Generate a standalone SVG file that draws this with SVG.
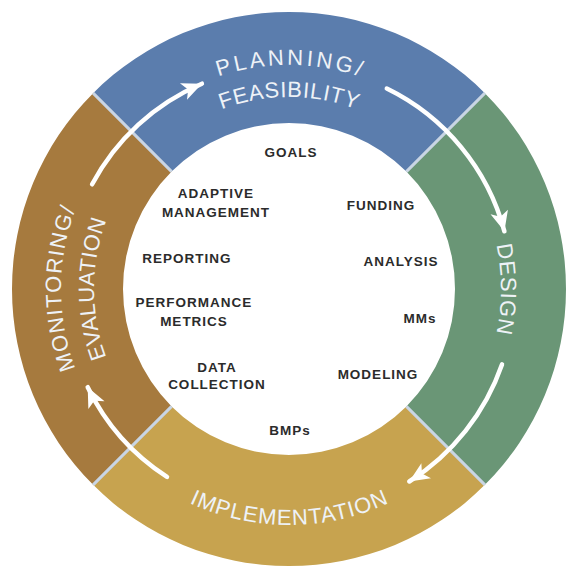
<svg xmlns="http://www.w3.org/2000/svg" width="568" height="572" viewBox="0 0 568 572">
<style>
.ring{font-family:"Liberation Sans Narrow","Liberation Sans","DejaVu Sans Condensed",sans-serif;font-size:22px;fill:#eef2f7}
.lbl{font-family:"Liberation Sans",Arial,sans-serif;font-size:13.5px;font-weight:bold;fill:#2b2b2b;text-anchor:middle;letter-spacing:1px}
.div{stroke:#c9d5e4;stroke-width:3}
.arr{fill:none;stroke:#ffffff;stroke-width:4.5;stroke-linecap:round}
</style>
<defs>
<marker id="ah" markerUnits="userSpaceOnUse" markerWidth="24" markerHeight="22" viewBox="-2 -11 24 22" refX="20" refY="0" orient="auto">
<path d="M0,-9 L20,0 L0,9 L5,0 Z" fill="#ffffff"/>
</marker>
<path id="pPlan" d="M65,289 A224,224 0 0 1 513,289"/>
<path id="pFeas" d="M97,289 A192,192 0 0 1 481,289"/>
<path id="pDes" d="M289,77 A212,212 0 0 1 289,501"/>
<path id="pImp" d="M53,289 A236,236 0 0 0 525,289"/>
<path id="pMon" d="M289,517 A228,228 0 0 1 289,61"/>
<path id="pEval" d="M289,484 A195,195 0 0 1 289,94"/>
</defs>
<rect width="568" height="572" fill="#ffffff"/>
<g id="planning">
<path d="M93.13,93.13 A277,277 0 0 1 484.87,93.13 L406.38,171.62 A166,166 0 0 0 171.62,171.62 Z" fill="#5b7dad"/>
<text class="ring"><textPath href="#pPlan" startOffset="50%" text-anchor="middle" textLength="144" lengthAdjust="spacing">PLANNING/</textPath></text>
<text class="ring"><textPath href="#pFeas" startOffset="50%" text-anchor="middle" textLength="138" lengthAdjust="spacing">FEASIBILITY</textPath></text>
</g>
<g id="design">
<path d="M484.87,93.13 A277,277 0 0 1 484.87,484.87 L406.38,406.38 A166,166 0 0 0 406.38,171.62 Z" fill="#6a9676"/>
<text class="ring"><textPath href="#pDes" startOffset="50%" text-anchor="middle" textLength="89" lengthAdjust="spacing">DESIGN</textPath></text>
</g>
<g id="implementation">
<path d="M484.87,484.87 A277,277 0 0 1 93.13,484.87 L171.62,406.38 A166,166 0 0 0 406.38,406.38 Z" fill="#c7a34f"/>
<text class="ring"><textPath href="#pImp" startOffset="50%" text-anchor="middle" textLength="206" lengthAdjust="spacing">IMPLEMENTATION</textPath></text>
</g>
<g id="monitoring">
<path d="M93.13,484.87 A277,277 0 0 1 93.13,93.13 L171.62,171.62 A166,166 0 0 0 171.62,406.38 Z" fill="#a67a3e"/>
<text class="ring"><textPath href="#pMon" startOffset="50%" text-anchor="middle" textLength="163" lengthAdjust="spacing">MONITORING/</textPath></text>
<text class="ring"><textPath href="#pEval" startOffset="50%" text-anchor="middle" textLength="140" lengthAdjust="spacing">EVALUATION</textPath></text>
</g>
<g id="dividers">
<line class="div" x1="93.13" y1="93.13" x2="171.62" y2="171.62"/>
<line class="div" x1="484.87" y1="93.13" x2="406.38" y2="171.62"/>
<line class="div" x1="484.87" y1="484.87" x2="406.38" y2="406.38"/>
<line class="div" x1="93.13" y1="484.87" x2="171.62" y2="406.38"/>
</g>
<g id="connectors">
<path class="arr" d="M92.1,184.3 A223,223 0 0 1 201.9,83.7" marker-end="url(#ah)"/>
<path class="arr" d="M386.8,88.6 A223,223 0 0 1 504.4,231.3" marker-end="url(#ah)"/>
<path class="arr" d="M502.0,364.4 A227,227 0 0 1 409.3,481.5" marker-end="url(#ah)"/>
<path class="arr" d="M167.0,476.9 A224,224 0 0 1 87.7,387.2" marker-end="url(#ah)"/>
</g>
<g id="inner-labels">
<text class="lbl" x="291" y="157">GOALS</text>
<text class="lbl" x="216" y="198">ADAPTIVE</text>
<text class="lbl" x="216" y="217">MANAGEMENT</text>
<text class="lbl" x="381" y="210">FUNDING</text>
<text class="lbl" x="187" y="263">REPORTING</text>
<text class="lbl" x="401" y="266">ANALYSIS</text>
<text class="lbl" x="194" y="307">PERFORMANCE</text>
<text class="lbl" x="194" y="326">METRICS</text>
<text class="lbl" x="420" y="323">MMs</text>
<text class="lbl" x="217" y="372">DATA</text>
<text class="lbl" x="217" y="389">COLLECTION</text>
<text class="lbl" x="378" y="379">MODELING</text>
<text class="lbl" x="290" y="435">BMPs</text>
</g>
</svg>
